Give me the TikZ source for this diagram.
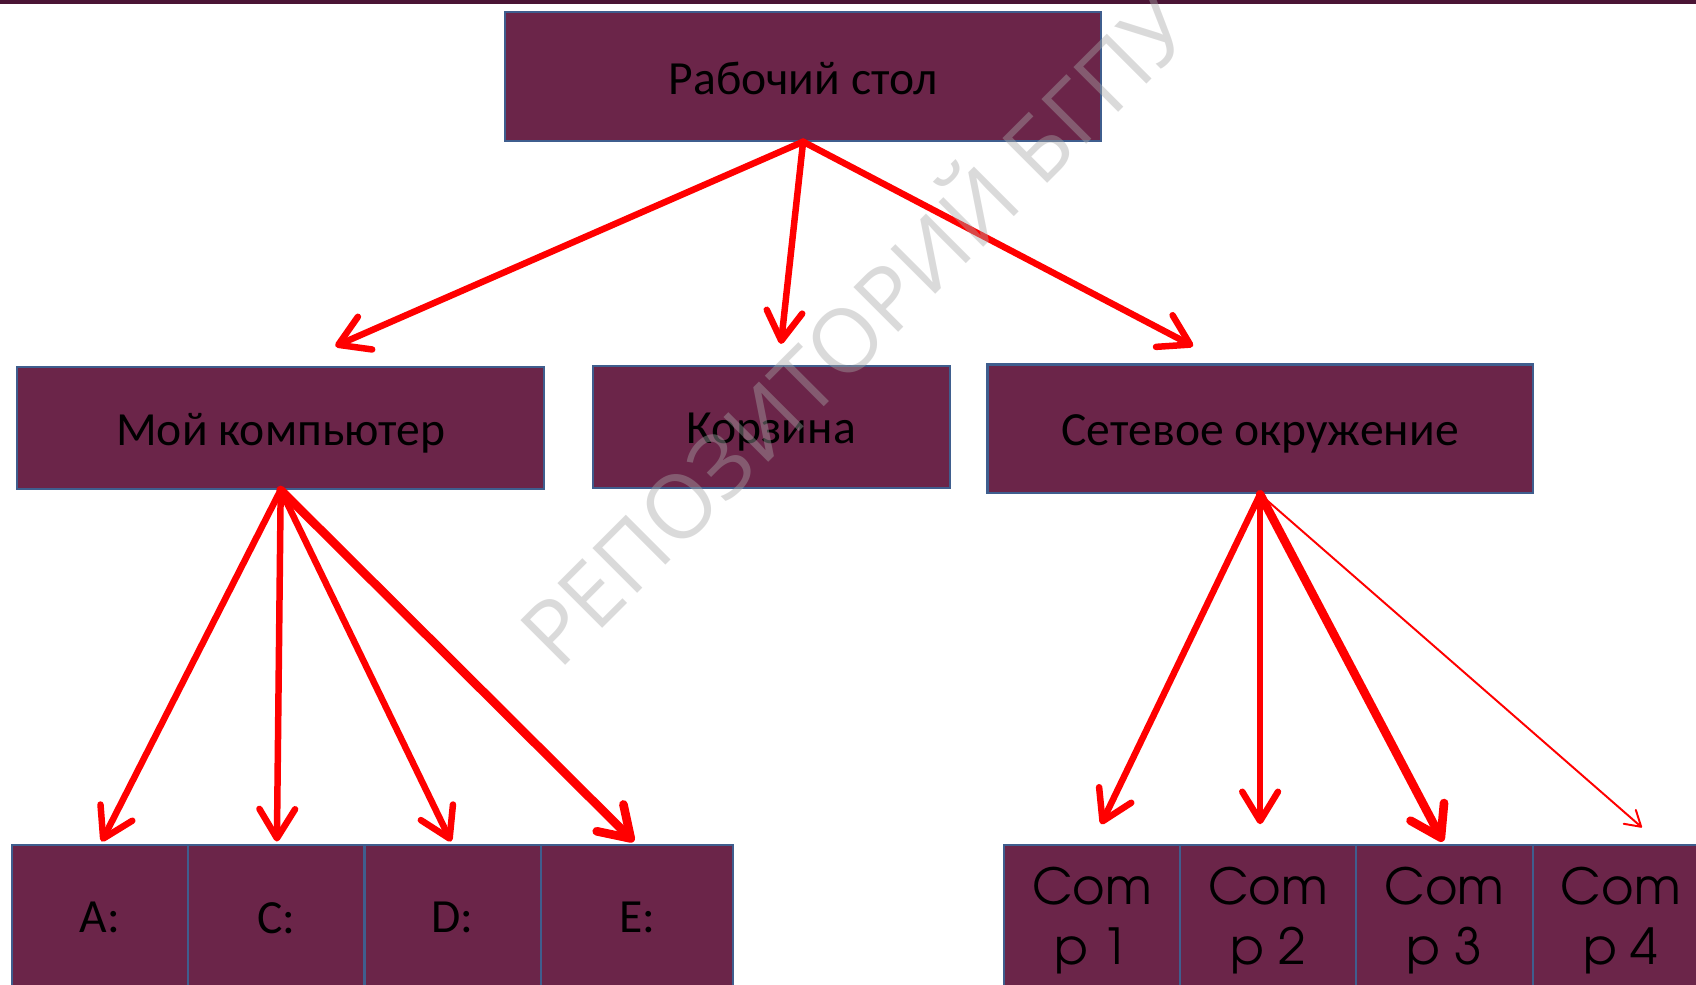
\documentclass[tikz,border=0pt]{standalone}
\usepackage{fontspec}
\setmainfont{Carlito}
\newfontfamily\gothic{texgyreadventor-regular.otf}
\newfontfamily\wmfont{Open Sans}
\usetikzlibrary{arrows.meta}
\definecolor{boxfill}{HTML}{6B2549}
\definecolor{boxline}{HTML}{3F5E8E}
\definecolor{topbar}{HTML}{4A1535}
\definecolor{arrred}{HTML}{FF0000}
\definecolor{wmgray}{HTML}{A8A8A8}
\newcommand{\lowertext}[2]{\raisebox{-#1}[\height][\depth]{#2}}
\tikzset{
  box/.style={draw=boxline, line width=2pt, fill=boxfill, inner sep=0pt, text=black,
    font=\fontsize{44}{52}\selectfont},
  cell/.style={box, minimum height=135pt},
  comcell/.style={box, minimum height=140pt, align=center, font=\gothic\fontsize{46}{55}\selectfont},
  arr/.style={draw=arrred, line width=6pt, line cap=round, line join=round,
    -{Straight Barb[length=27pt,width=33pt,round]}},
  thickarr/.style={arr, line width=8pt, -{Straight Barb[length=27pt,width=35pt,round]}},
  thinarr/.style={draw=arrred, line width=1.8pt, line cap=round,
    -{Straight Barb[length=14pt,width=17pt,round]}},
  wm/.style={text=wmgray, text opacity=0.42, font=\wmfont\fontsize{82}{90}\selectfont}
}
\begin{document}
\begin{tikzpicture}[x=1pt,y=-1pt]
\useasboundingbox (0,0) rectangle (1568,910);
\clip (0,0) rectangle (1568,910);
\fill[topbar] (0,0) rectangle (1568,4) coordinate (barend);
% level 1
\node[box, minimum width=551pt, minimum height=119pt] (top) at (742.5,70.5) {\lowertext{2pt}{Рабочий стол}};
% level 2
\node[box, minimum width=487pt, minimum height=113pt] (mycomp) at (259.5,395.5) {\lowertext{5pt}{Мой компьютер}};
\node[box, minimum width=330pt, minimum height=113pt] (trash) at (713,394.5) {\lowertext{5pt}{Корзина}};
\node[box, minimum width=504pt, minimum height=119pt] (net) at (1165,396.5) {\lowertext{5pt}{Сетевое окружение}};
% level 3 left
\node[cell, minimum width=163pt] (da) at (92.5,848.5) {A:};
\node[cell, minimum width=163pt] (dc) at (255.5,848.5) {C:};
\node[cell, minimum width=163pt] (dd) at (418.5,848.5) {D:};
\node[cell, minimum width=178pt] (de) at (589,848.5) {E:};
% level 3 right
\node[comcell, minimum width=163pt] (c1) at (1009.5,851) {Com\\p 1};
\node[comcell, minimum width=163pt] (c2) at (1172.5,851) {Com\\p 2};
\node[comcell, minimum width=163pt] (c3) at (1335.5,851) {Com\\p 3};
\node[comcell, minimum width=163pt] (c4) at (1498.5,851) {Com\\p 4};
% arrow tips
\coordinate (t1) at (310,320);
\coordinate (t2) at (722,318);
\coordinate (t3) at (1103,320);
\coordinate (t4) at (94,778);
\coordinate (t5) at (256,778);
\coordinate (t6) at (417,778);
\coordinate (t7) at (586,778);
\coordinate (t8) at (1018,762);
\coordinate (t9) at (1165,762);
\coordinate (t10) at (1334,778);
\coordinate (t11) at (1518,765);
% arrows
\draw[arr] (top.south) -- (t1);
\draw[arr] (top.south) -- (t2);
\draw[arr] (top.south) -- (t3);
\draw[arr] (mycomp.south) -- (t4);
\draw[arr] (mycomp.south) -- (t5);
\draw[arr] (mycomp.south) -- (t6);
\draw[thickarr] (mycomp.south) -- (t7);
\draw[arr] (net.south) -- (t8);
\draw[arr] (net.south) -- (t9);
\draw[thickarr] (net.south) -- (t10);
\draw[thinarr] (net.south) -- (t11);
% watermark
\node[wm, rotate=45, anchor=base] (wmark) at (812,326) {РЕПОЗИТОРИЙ БГПУ};
\end{tikzpicture}
\end{document}
